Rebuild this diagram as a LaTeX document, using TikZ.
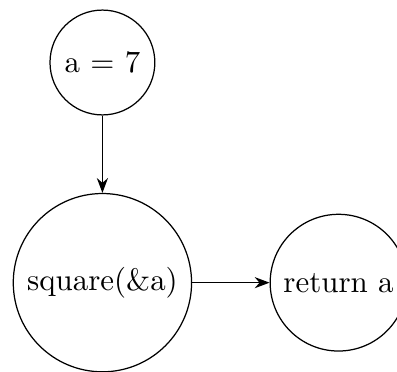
\documentclass[tikz,border=0pt]{standalone}
\usepackage{tikz}
\usetikzlibrary{arrows.meta,positioning}

\begin{document}
\begin{tikzpicture}[node distance=25pt,
  state/.style={draw,circle},
  arr/.style={-{Stealth}}]
  \useasboundingbox (-33.1pt,20.2pt) rectangle (95.2pt,-99.7pt);
  \node[state] (assign) at (0,0) {a = 7};
  \node[state,below=of assign] (call) {square(\&a)};
  \node[state,right=of call] (ret) {return a};
  \draw[arr] (assign)--(call); \draw[arr] (call)--(ret);
\end{tikzpicture}
\end{document}
